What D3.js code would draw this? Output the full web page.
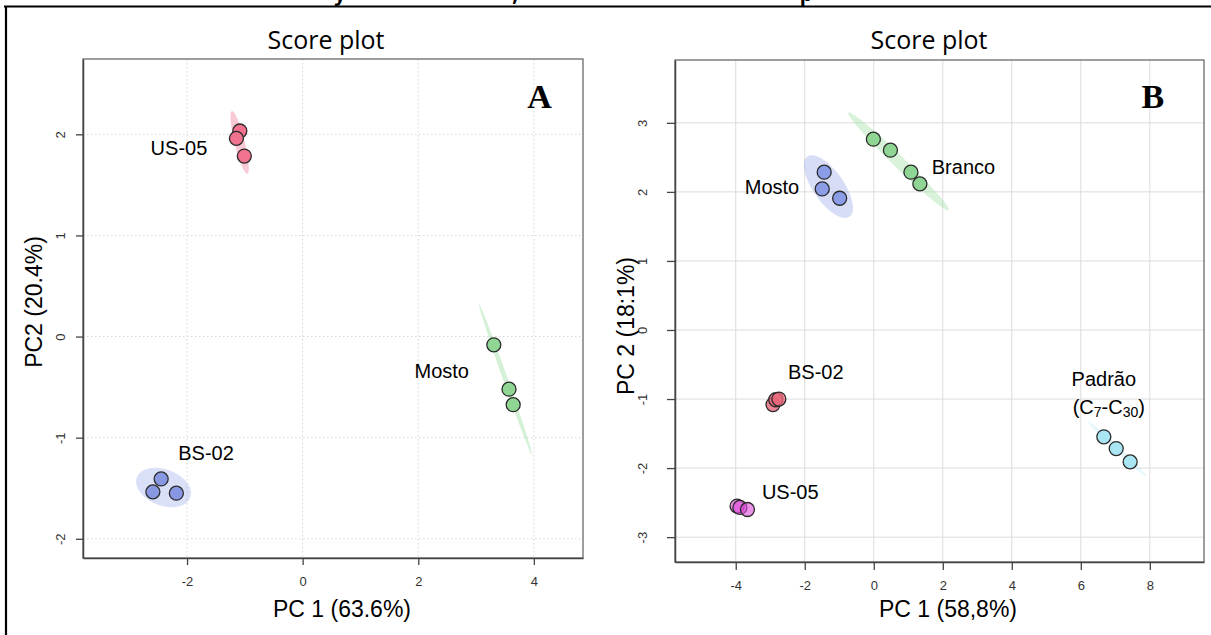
<!DOCTYPE html>
<html><head><meta charset="utf-8">
<script src="https://cdn.jsdelivr.net/npm/d3@7/dist/d3.min.js"></script>
<style>body{margin:0;background:#fff}svg{display:block}</style>
</head><body>
<svg id="chart" width="1211" height="635"></svg>
<script>
// ---------------- DATA ----------------
// Panel A
const titleA = "Score plot";
const xLabelA = "PC 1 (63.6%)";
const yLabelA = "PC2 (20.4%)";
const xTicksA = [-2, 0, 2, 4];
const yTicksA = [-2, -1, 0, 1, 2];
const xDomainA = [-3.80, 4.85];
const yDomainA = [-2.19, 2.745];
const groupA = ["US-05","US-05","US-05","Mosto","Mosto","Mosto","BS-02","BS-02","BS-02"];
const pc1A = [-1.087, -1.146, -1.009, 3.307, 3.570, 3.642, -2.448, -2.591, -2.185];
const pc2A = [2.033, 1.960, 1.785, -0.082, -0.520, -0.674, -1.408, -1.536, -1.549];
// confidence ellipses (data units: centre, half-extents, correlation)
const ellGroupA = ["US-05", "Mosto", "BS-02"];
const ellCxA = [-1.09, 3.51, -2.406];
const ellCyA = [1.92, -0.425, -1.493];
const ellSxA = [0.158, 0.46, 0.475];
const ellSyA = [0.31, 0.745, 0.195];
const ellRA = [-0.82, -0.9956, -0.30];
const labelTextA = ["US-05", "Mosto", "BS-02"];
const labelXA = [-2.14, 2.406, -1.672];
const labelYA = [1.861, -0.345, -1.155];

// Panel B
const titleB = "Score plot";
const xLabelB = "PC 1 (58,8%)";
const yLabelB = "PC 2 (18:1%)";
const xTicksB = [-4, -2, 0, 2, 4, 6, 8];
const yTicksB = [-3, -2, -1, 0, 1, 2, 3];
const xDomainB = [-5.76, 9.57];
const yDomainB = [-3.36, 3.91];
const groupB = ["Mosto","Mosto","Mosto","Branco","Branco","Branco","Branco",
                "BS-02","BS-02","BS-02","US-05","US-05","US-05","Padrão","Padrão","Padrão"];
const pc1B = [-1.437, -1.493, -0.988, -0.011, 0.483, 1.077, 1.336,
              -2.92, -2.84, -2.75, -3.96, -3.88, -3.66, 6.667, 7.026, 7.430];
const pc2B = [2.285, 2.043, 1.908, 2.763, 2.604, 2.285, 2.116,
              -1.08, -1.01, -1.00, -2.55, -2.57, -2.60, -1.547, -1.717, -1.910];
const ellGroupB = ["Mosto", "Branco", "Padrão"];
const ellCxB = [-1.313, 0.718, 7.05];
const ellCyB = [2.077, 2.44, -1.72];
const ellSxB = [0.71, 1.46, 0.85];
const ellSyB = [0.454, 0.71, 0.40];
const ellRB = [-0.68, -0.986, -0.99];
const labelXB = [-2.95, 2.60, -1.68, -2.42, 6.667];
const labelYB = [2.077, 2.357, -0.603, -2.346, -0.714];
const labelTextB = ["Mosto", "Branco", "BS-02", "US-05", "Padrão"];
const subLabelX = 6.81, subLabelY = -1.121; // "(C7-C30)"

// ---------------- STYLE ----------------
const colA = {"US-05": "#f0728f", "Mosto": "#8fd694", "BS-02": "#8797e2"};
const ellColA = {"US-05": "#f28aa4", "Mosto": "#9fe0a6", "BS-02": "#8d9ee6"};
const ellOpA = {"US-05": 0.45, "Mosto": 0.45, "BS-02": 0.32};
const colB = {"Mosto": "#8a9de6", "Branco": "#8fd694", "BS-02": "#e8677a", "US-05": "#dc4ad9", "Padrão": "#a9e5f3"};
const opB = {"Mosto": 1, "Branco": 1, "BS-02": 0.8, "US-05": 0.6, "Padrão": 1};
const ellColB = {"Mosto": "#8d9ee6", "Branco": "#9fe0a6", "Padrão": "#a9e5f3"};
const ellOpB = {"Mosto": 0.35, "Branco": 0.4, "Padrão": 0.25};

const svg = d3.select("#chart");
svg.append("rect").attr("width", 1211).attr("height", 635).attr("fill", "#fff");

// cropped caption remnants + frame
svg.append("g").selectAll("text").data([["y", 340], [",", 515], ["p", 806]]).join("text")
  .attr("x", d => d[1]).attr("y", 1).attr("font-family", "Open Sans").attr("font-weight", "bold")
  .attr("font-size", 20).attr("text-anchor", "middle").text(d => d[0]);
svg.append("line").attr("x1", 4).attr("x2", 1211).attr("y1", 6.5).attr("y2", 6.5).attr("stroke", "#000").attr("stroke-width", 2.2);
svg.append("line").attr("x1", 6).attr("x2", 6).attr("y1", 6).attr("y2", 635).attr("stroke", "#000").attr("stroke-width", 2.2);

function ellipsePts(cx, cy, sx, sy, r, n = 120) {
  const k = Math.sqrt(1 - r * r), pts = [];
  for (let i = 0; i <= n; i++) {
    const t = 2 * Math.PI * i / n;
    pts.push([cx + sx * Math.cos(t), cy + sy * (r * Math.cos(t) + k * Math.sin(t))]);
  }
  return pts;
}

const fmt = d => String(d);

function panel(o) {
  const g = svg.append("g");
  const x = d3.scaleLinear().domain(o.xDomain).range([o.left, o.right]);
  const y = d3.scaleLinear().domain(o.yDomain).range([o.bottom, o.top]);
  const clipId = "clip" + o.id;
  g.append("clipPath").attr("id", clipId).append("rect")
    .attr("x", o.left).attr("y", o.top).attr("width", o.right - o.left).attr("height", o.bottom - o.top);

  // grid
  const grid = g.append("g").attr("stroke", o.gridColor).attr("stroke-width", 1)
    .attr("stroke-dasharray", o.gridDash);
  grid.selectAll(".gx").data(o.xTicks).join("line")
    .attr("x1", d => x(d)).attr("x2", d => x(d)).attr("y1", o.top).attr("y2", o.bottom);
  grid.selectAll(".gy").data(o.yTicks).join("line")
    .attr("y1", d => y(d)).attr("y2", d => y(d)).attr("x1", o.left).attr("x2", o.right);

  // ellipses
  const line = d3.line().x(d => x(d[0])).y(d => y(d[1]));
  const eg = g.append("g").attr("clip-path", `url(#${clipId})`);
  o.ellGroup.forEach((grp, i) => {
    eg.append("path").attr("d", line(ellipsePts(o.ellCx[i], o.ellCy[i], o.ellSx[i], o.ellSy[i], o.ellR[i])))
      .attr("fill", o.ellCol[grp]).attr("fill-opacity", o.ellOp[grp]).attr("stroke", "none");
  });

  // box
  g.append("rect").attr("x", o.left).attr("y", o.top).attr("width", o.right - o.left)
    .attr("height", o.bottom - o.top).attr("fill", "none").attr("stroke", "#6a6a6a").attr("stroke-width", 1.3);

  // axes
  const ax = g.append("g").attr("transform", `translate(0,${o.bottom})`)
    .call(d3.axisBottom(x).tickValues(o.xTicks).tickFormat(fmt).tickSize(o.tick).tickSizeOuter(0).tickPadding(o.xPad));
  const ay = g.append("g").attr("transform", `translate(${o.left},0)`)
    .call(d3.axisLeft(y).tickValues(o.yTicks).tickFormat(fmt).tickSize(o.tick).tickSizeOuter(0));
  [ax, ay].forEach(a => {
    a.select(".domain").attr("stroke", "#444").attr("stroke-width", 1.5);
    a.selectAll(".tick line").attr("stroke", "#444").attr("stroke-width", 1.3);
    a.selectAll("text").attr("font-family", "Liberation Sans, Arial").attr("font-size", 13).attr("fill", "#333");
  });
  ay.selectAll("text").attr("x", 0).attr("dy", null).attr("text-anchor", "middle")
    .attr("transform", `translate(${-o.yPad},0) rotate(-90)`);

  // points
  g.append("g").selectAll("circle").data(o.pc1).join("circle")
    .attr("cx", (d, i) => x(d)).attr("cy", (d, i) => y(o.pc2[i])).attr("r", 7)
    .attr("fill", (d, i) => o.col[o.group[i]]).attr("fill-opacity", (d, i) => o.op[o.group[i]])
    .attr("stroke", "#2a2a2a").attr("stroke-width", 1.3);

  // group labels
  g.append("g").selectAll("text").data(o.labelText).join("text")
    .attr("x", (d, i) => x(o.labelX[i])).attr("y", (d, i) => y(o.labelY[i]))
    .attr("text-anchor", "middle").attr("dominant-baseline", "central")
    .attr("font-family", "Liberation Sans, Arial").attr("font-size", 20).attr("fill", "#000").text(d => d);

  // titles
  g.append("text").attr("x", o.titleX).attr("y", 49).attr("text-anchor", "middle")
    .attr("font-family", "Open Sans").attr("font-size", 25).attr("fill", "#000").text(o.title);
  g.append("text").attr("x", o.xLabX).attr("y", 617).attr("text-anchor", "middle")
    .attr("font-family", "Liberation Sans, Arial").attr("font-size", 23).attr("fill", "#000").text(o.xLabel);
  g.append("text").attr("transform", `translate(${o.yLabX},${o.yLabY}) rotate(-90)`)
    .attr("text-anchor", "middle").attr("dominant-baseline", "central")
    .attr("font-family", "Liberation Sans, Arial").attr("font-size", 23).attr("fill", "#000").text(o.yLabel);
  g.append("text").attr("x", x(o.letterX)).attr("y", y(o.letterY)).attr("text-anchor", "middle")
    .attr("font-family", "Liberation Serif, Times New Roman").attr("font-weight", "bold")
    .attr("font-size", 34).attr("fill", "#000").text(o.letter);
  return {g, x, y};
}

panel({
  id: "A", left: 83, right: 583, top: 59, bottom: 558,
  xDomain: xDomainA, yDomain: yDomainA, xTicks: xTicksA, yTicks: yTicksA,
  gridColor: "#d6d6d6", gridDash: "1.5,2.5", tick: 7, xPad: 12, yPad: 18,
  ellGroup: ellGroupA, ellCx: ellCxA, ellCy: ellCyA, ellSx: ellSxA, ellSy: ellSyA, ellR: ellRA,
  ellCol: ellColA, ellOp: ellOpA,
  group: groupA, pc1: pc1A, pc2: pc2A, col: colA, op: {"US-05": 1, "Mosto": 1, "BS-02": 1},
  labelText: labelTextA, labelX: labelXA, labelY: labelYA,
  title: titleA, titleX: 326, xLabel: xLabelA, xLabX: 342, yLabel: yLabelA, yLabX: 34, yLabY: 302,
  letter: "A", letterX: 4.10, letterY: 2.258
});

const pB = panel({
  id: "B", left: 675, right: 1204, top: 60, bottom: 562,
  xDomain: xDomainB, yDomain: yDomainB, xTicks: xTicksB, yTicks: yTicksB,
  gridColor: "#dcdcdc", gridDash: null, tick: 8, xPad: 11, yPad: 28,
  ellGroup: ellGroupB, ellCx: ellCxB, ellCy: ellCyB, ellSx: ellSxB, ellSy: ellSyB, ellR: ellRB,
  ellCol: ellColB, ellOp: ellOpB,
  group: groupB, pc1: pc1B, pc2: pc2B, col: colB, op: opB,
  labelText: labelTextB, labelX: labelXB, labelY: labelYB,
  title: titleB, titleX: 929, xLabel: xLabelB, xLabX: 948, yLabel: yLabelB, yLabX: 626, yLabY: 326,
  letter: "B", letterX: 8.09, letterY: 3.21
});

// "(C7-C30)" with subscripts
const sub = pB.g.append("text").attr("x", pB.x(subLabelX)).attr("y", pB.y(subLabelY))
  .attr("text-anchor", "middle").attr("dominant-baseline", "central")
  .attr("font-family", "Liberation Sans, Arial").attr("font-size", 20).attr("fill", "#000");
sub.append("tspan").text("(C");
sub.append("tspan").attr("font-size", 14).attr("dy", 5).text("7");
sub.append("tspan").attr("dy", -5).text("-C");
sub.append("tspan").attr("font-size", 14).attr("dy", 5).text("30");
sub.append("tspan").attr("dy", -5).text(")");
</script>
</body></html>
